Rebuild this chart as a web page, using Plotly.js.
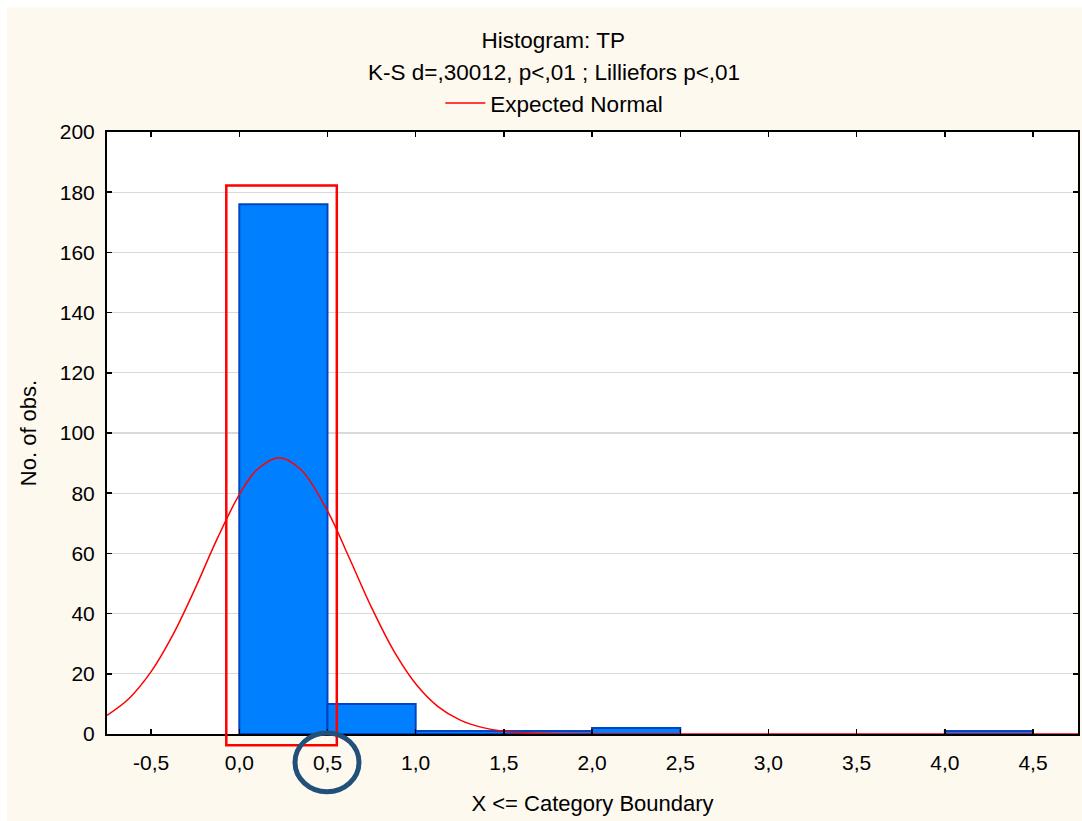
<!DOCTYPE html>
<html>
<head>
<meta charset="utf-8">
<script src="https://cdn.plot.ly/plotly-3.0.1.min.js"></script>
<style>html,body{margin:0;padding:0;background:#ffffff;}#chart{width:1082px;height:821px;}</style>
</head>
<body>
<div id="chart"></div>
<script>
// Histogram bins (centres of 0.5-wide category intervals) and counts
const binCenters = [0.25, 0.75, 1.25, 1.75, 2.25, 4.25];
const binCounts  = [176, 10, 1, 1, 2, 1];
const binWidth = 0.5;

// Expected Normal curve
const normalX = [-0.75, -0.625, -0.5, -0.375, -0.25, -0.125, 0, 0.1, 0.225, 0.35, 0.5, 0.625, 0.75, 0.875, 1.0, 1.125, 1.25, 1.375, 1.5, 1.75, 2.0, 2.5, 3.0, 3.5, 4.0, 4.5, 4.755];
const normalY = [6.2, 11.8, 20.7, 33.1, 48.4, 64.9, 79.5, 87.8, 91.8, 87.8, 74.1, 58.3, 42.0, 27.7, 16.7, 9.2, 4.7, 2.2, 0.9, 0.13, 0.01, 0, 0, 0, 0, 0, 0];

// Tick labels
const xTickVals = [-0.5, 0, 0.5, 1, 1.5, 2, 2.5, 3, 3.5, 4, 4.5];
const xTickText = ["-0,5", "0,0", "0,5", "1,0", "1,5", "2,0", "2,5", "3,0", "3,5", "4,0", "4,5"];
const yTickVals = [0, 20, 40, 60, 80, 100, 120, 140, 160, 180, 200];
const yTickText = ["0", "20", "40", "60", "80", "100", "120", "140", "160", "180", "200"];

const titleText = "Histogram: TP";
const subtitleText = "K-S d=,30012, p&lt;,01 ; Lilliefors p&lt;,01";
const xTitle = "X &lt;= Category Boundary";
const yTitle = "No. of obs.";
const legendName = "Expected Normal";

const FONT = "'Liberation Sans', Arial, sans-serif";
const cream = "#fdf9ef";
const TXT = 22.5;

const traces = [
  {
    type: "bar",
    x: binCenters,
    y: binCounts,
    width: binCenters.map(() => binWidth),
    marker: {color: "#0080ff", line: {color: "#0046c4", width: 2}},
    showlegend: false,
    hoverinfo: "x+y"
  },
  {
    type: "scatter",
    mode: "lines",
    x: normalX,
    y: normalY,
    name: legendName,
    line: {color: "#ff0000", width: 1.5, shape: "spline", smoothing: 1},
    showlegend: true
  }
];

const axisCommon = {
  showline: true, linecolor: "#000000", linewidth: 2, mirror: "ticks",
  ticks: "inside", ticklen: 5, tickwidth: 1.5, tickcolor: "#000000",
  tickfont: {family: FONT, size: 21, color: "#000000"},
  zeroline: false
};

const layout = {
  width: 1082, height: 821,
  paper_bgcolor: cream,
  plot_bgcolor: "#ffffff",
  margin: {l: 107, r: 4, t: 132, b: 87, pad: 0},
  font: {family: FONT, color: "#000000", size: TXT},
  title: {text: titleText, font: {family: FONT, size: TXT, color: "#000000"},
          x: 0.4596, xanchor: "center", xref: "paper", y: 1 - 40/821, yref: "container", yanchor: "middle"},
  xaxis: Object.assign({}, axisCommon, {
    range: [-0.75, 4.755],
    tickmode: "array", tickvals: xTickVals, ticktext: xTickText,
    showgrid: false,
    ticklabelstandoff: 9,
    title: {text: xTitle, font: {family: FONT, size: 22}, standoff: 22}
  }),
  yaxis: Object.assign({}, axisCommon, {
    range: [0, 200],
    tickmode: "array", tickvals: yTickVals, ticktext: yTickText,
    showgrid: true, gridcolor: "#d9d9d9", gridwidth: 1.3,
    ticklabelstandoff: 6,
    title: {text: yTitle, font: {family: FONT, size: 22}, standoff: 17}
  }),
  showlegend: true,
  legend: {
    orientation: "h", x: (440 - 106.7) / 971, xanchor: "left", y: (734.3 - 103) / 602.6, yanchor: "middle",
    bgcolor: "rgba(0,0,0,0)", font: {family: FONT, size: TXT, color: "#000000"},
    itemwidth: 40
  },
  annotations: [
    {text: subtitleText, xref: "paper", yref: "paper", x: 0.4606, y: (734.3 - 72) / 602.6,
     xanchor: "center", yanchor: "middle", showarrow: false, font: {family: FONT, size: TXT, color: "#000000"}}
  ],
  shapes: [
    // white strips at top and left edge of the image
    {type: "rect", xref: "paper", yref: "paper", x0: -107/971, x1: 1.1, y0: (734.3-7)/602.6, y1: 1.3,
     fillcolor: "#ffffff", line: {width: 0}, layer: "above"},
    {type: "rect", xref: "paper", yref: "paper", x0: -0.12, x1: -100/971, y0: -0.2, y1: 1.3,
     fillcolor: "#ffffff", line: {width: 0}, layer: "above"},
    // red highlight rectangle
    {type: "rect", xref: "paper", yref: "paper", x0: (226 - 106.7)/971, x1: (336.5 - 106.7)/971,
     y0: (734.3 - 745.5)/602.6, y1: (734.3 - 185.3)/602.6,
     line: {color: "#ff0000", width: 2.5}, fillcolor: "rgba(0,0,0,0)", layer: "above"},
    // dark blue circle around the 0,5 tick label
    {type: "circle", xref: "paper", yref: "paper", x0: (326.7 - 32 - 106.7)/971, x1: (326.7 + 32 - 106.7)/971,
     y0: (734.3 - 762.7 - 29.5)/602.6, y1: (734.3 - 762.7 + 29.5)/602.6,
     line: {color: "#22507a", width: 5}, fillcolor: "rgba(0,0,0,0)", layer: "above"}
  ]
};

Plotly.newPlot("chart", traces, layout, {displayModeBar: false, staticPlot: true});
</script>
</body>
</html>
